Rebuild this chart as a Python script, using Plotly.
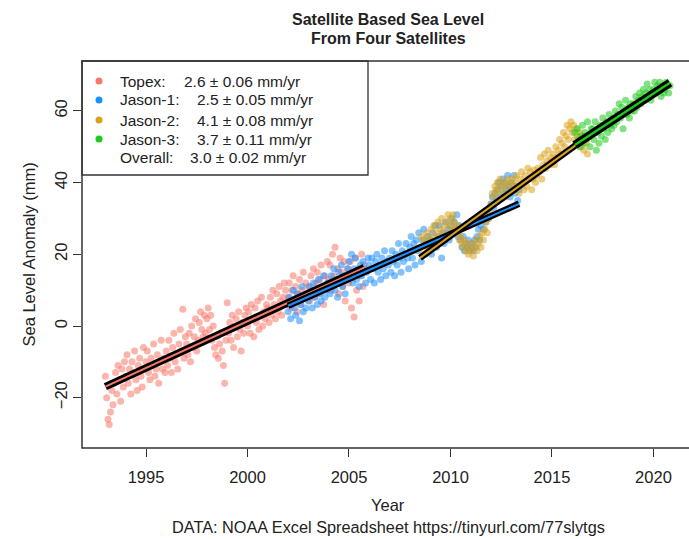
import numpy as np
import plotly.graph_objects as go

# ---------------- data ----------------
series_names = ["Topex", "Jason-1", "Jason-2", "Jason-3"]
series_colors = ["#F8786A", "#1E8FFF", "#DAA21C", "#1CCB1C"]
time_step = 0.0625          # years between plotted cycles
series_start = [1993.0, 2002.0, 2008.5, 2016.125]

topex = [
    -14, -20, -26, -27.5, -24, -18, -22, -16, -13, -19, -11, -15, -21, -12, -17, -10,
    -14, -8, -16, -12, -19, -10, -13, -7, -15, -18, -11, -9, -14, -17, -6, -12,
    -10, -7, -13, -15, -9, -11, -5, -14, -12, -8, -16, -10, -4, -12, -9, -13,
    -7, -11, -4, -9, -13, -6, -2, -10, -8, -12, -5, -1, -7, 4.7, -9, -3,
    -5, -8, -2, -10, 0, -6, -3, 2, -7, -4, 1, 4, -1, -3, 3, -2,
    2, 5, -1, 3, -4, 0, -6, -8, -3, -9, -5, -2, -7, -11, -16, -4,
    6.5, -2, 1, -4, 3, -6, 0, 2, -3, 4, -1, -7, 1, -2, 3, 5,
    0, 4, -2, 6, 2, -3, 5, 1, 7, -1, 3, 8, 0, 4, 2, 6,
    5, 1, 8, 3, 10, 6, 2, 9, 4, 11, 7, 3, 8, 12, 10, 6,
    8, 12, 5, 10, 14, 7, 11, 4, 9, 13, 6, 10, 15, 8, 12, 9,
    11, 7, 14, 10, 16, 8, 12, 15, 9, 13, 17, 10, 6, 14, 11, 18,
    13, 17, 10, 20, 14, 22, 12, 16, 9, 19, 15, 11, 18, 7, 14, 16,
    12, 18, 5, 15, 2.5, 19, 10, 16, 7, 14, 20, 11, 17,
]
jason1 = [
    4, 8, 2, 6, 10, 5, 3, 9, 7, 1.5, 6, 11, 4, 8, 5, 9,
    7, 11, 9, 5, 12, 8, 10, 6, 13, 9, 7, 11, 14, 8, 10, 12,
    12, 9, 14, 11, 16, 10, 13, 8, 15, 12, 17, 11, 14, 9, 13, 16,
    18, 14, 20, 12, 16, 19, 13, 15, 11, 17, 14, 18, 16, 12, 15, 19,
    17, 13, 19, 16, 12, 18, 20, 15, 17, 13, 19, 16, 21, 14, 18, 17,
    19, 15, 21, 18, 14, 20, 17, 23, 19, 15, 21, 18, 20, 23, 19, 16,
    22, 25, 19, 23, 17, 24, 21, 26, 22, 18, 24, 27, 20, 23, 25, 22,
    24, 20, 26, 23, 28, 22, 25, 28, 24, 19, 26, 23, 29, 25, 27, 24,
    28, 30, 26, 29, 27, 31, 25, 28, 24, 22, 25, 21, 23, 22, 24, 21,
    22, 23, 21, 24, 22, 25, 27, 24, 28, 30, 27, 31, 29, 32, 30, 33,
    34, 36, 33, 37, 35, 38, 40, 36, 39, 41, 37, 40, 38, 42, 39, 36,
    40, 38, 42, 37, 39, 35, 38,
]
jason2 = [
    22, 25, 20, 24, 23, 26, 21, 25,
    24, 27, 23, 28, 25, 26, 29, 24, 27, 30, 26, 28, 25, 29, 31, 27,
    30, 28, 31, 29, 27, 28, 26, 24, 25, 23, 22, 24, 21, 23, 20, 22,
    21, 23, 19.5, 22, 24, 21, 23, 25, 22, 26, 24, 27, 29, 26, 30, 32,
    34, 37, 36, 39, 38, 40, 37, 41, 39, 38, 40, 36, 39, 41, 37, 40,
    39, 41, 38, 40, 42, 39, 37, 41, 43, 40, 38, 42, 39, 44, 41, 43,
    38, 41, 43.5, 40, 42, 44, 43, 47, 41, 45, 48, 44, 46, 49, 45, 47,
    46, 48, 45, 50, 47, 49, 52, 48, 51, 54, 50, 53, 56, 52, 55, 57,
    54, 56, 52, 55, 53, 51, 54, 50, 52, 49, 53, 51, 48,
]
jason3 = [
    54, 51, 55, 52, 50, 53, 56, 51, 54, 52, 57, 53, 50, 55,
    55, 52, 57, 49, 54, 51, 56, 53, 58, 55, 52, 57, 54, 59, 56, 55,
    58, 56, 60, 57, 59, 62, 58, 61, 55, 60, 63, 59, 61, 58, 62, 60,
    62, 60, 64, 61, 63, 65, 62, 64, 66, 63, 65, 67.5, 64, 66, 63, 65,
    66, 68, 65, 67, 66, 68, 64, 67, 65, 66, 68, 67, 65, 67,
]
series_values = [topex, jason1, jason2, jason3]

# regression fits: rate (mm/yr) and fitted level at the series start
fit_rate = [2.6, 2.5, 4.1, 3.7]
fit_err = ["0.06", "0.05", "0.08", "0.11"]
fit_start_level = [-16.9, 5.65, 19.0, 50.5]
overall_rate, overall_err = 3.0, "0.02"

x_ticks = [1995, 2000, 2005, 2010, 2015, 2020]
y_ticks = [-20, 0, 20, 40, 60]

# ---------------- figure ----------------
FONT = "Liberation Sans, Arial, sans-serif"
TXT = "#222222"
fig = go.Figure()

times = []
for name, col, t0, vals in zip(series_names, series_colors, series_start, series_values):
    t = t0 + time_step * np.arange(len(vals))
    times.append(t)
    fig.add_trace(go.Scatter(x=t, y=vals, mode="markers", name=name,
                             marker=dict(size=7, color=col, opacity=0.55, line=dict(width=0)),
                             showlegend=False, hoverinfo="skip"))

black_w = [7.5, 6.5, 6.5, 8.5]
col_w = [2, 2, 2, 2.2]
for i, (col, t) in enumerate(zip(series_colors, times)):
    xs = [t[0], t[-1]]
    ys = [fit_start_level[i], fit_start_level[i] + fit_rate[i] * (t[-1] - t[0])]
    fig.add_trace(go.Scatter(x=xs, y=ys, mode="lines", line=dict(color="black", width=black_w[i]),
                             showlegend=False, hoverinfo="skip"))
    fig.add_trace(go.Scatter(x=xs, y=ys, mode="lines", line=dict(color=col, width=col_w[i]),
                             showlegend=False, hoverinfo="skip"))

# pixel geometry helpers (plot area: x 82..689, y 61..448)
L, R, T, B = 82, 689, 61, 448
def px(X):
    return (X - L) / (R - L)
def py(Y):
    return (B - Y) / (B - T)

shapes = [
    dict(type="rect", xref="paper", yref="paper", x0=0, x1=1.05, y0=0, y1=1,
         line=dict(color="#333333", width=1.5), layer="above"),
    dict(type="rect", xref="paper", yref="paper", x0=0, x1=px(368), y0=py(175), y1=1,
         line=dict(color="#333333", width=1.3), fillcolor="rgba(255,255,255,0)", layer="above"),
]
annotations = []
rows_y = [81, 100, 120, 139, 157]
value_x = [182, 195, 195, 195]
for i, (name, col) in enumerate(zip(series_names, series_colors)):
    shapes.append(dict(type="circle", xref="paper", yref="paper", xsizemode="pixel", ysizemode="pixel",
                       xanchor=px(99), yanchor=py(rows_y[i]), x0=-3.5, x1=3.5, y0=-3.5, y1=3.5,
                       fillcolor=col, line=dict(width=0)))
    annotations.append(dict(x=px(118), y=py(rows_y[i]), xref="paper", yref="paper", text=f"{name}:",
                            showarrow=False, xanchor="left", yanchor="middle",
                            font=dict(family=FONT, size=15.5, color=TXT)))
    annotations.append(dict(x=px(value_x[i]), y=py(rows_y[i]), xref="paper", yref="paper",
                            text=f"{fit_rate[i]:.1f} \u00b1 {fit_err[i]} mm/yr",
                            showarrow=False, xanchor="left", yanchor="middle",
                            font=dict(family=FONT, size=15.5, color=TXT)))
annotations.append(dict(x=px(118), y=py(rows_y[4]), xref="paper", yref="paper", text="Overall:",
                        showarrow=False, xanchor="left", yanchor="middle",
                        font=dict(family=FONT, size=15.5, color=TXT)))
annotations.append(dict(x=px(188), y=py(rows_y[4]), xref="paper", yref="paper",
                        text=f"{overall_rate:.1f} \u00b1 {overall_err} mm/yr",
                        showarrow=False, xanchor="left", yanchor="middle",
                        font=dict(family=FONT, size=15.5, color=TXT)))

cx = px(388)
annotations += [
    dict(x=cx, y=py(19.5), xref="paper", yref="paper", text="<b>Satellite Based Sea Level</b>",
         showarrow=False, xanchor="center", yanchor="middle", font=dict(family=FONT, size=16, color=TXT)),
    dict(x=cx, y=py(38.5), xref="paper", yref="paper", text="<b>From Four Satellites</b>",
         showarrow=False, xanchor="center", yanchor="middle", font=dict(family=FONT, size=16, color=TXT)),
    dict(x=cx, y=py(505), xref="paper", yref="paper", text="Year",
         showarrow=False, xanchor="center", yanchor="middle", font=dict(family=FONT, size=16.5, color=TXT)),
    dict(x=px(388), y=py(526.5), xref="paper", yref="paper",
         text="DATA: NOAA Excel Spreadsheet https://tinyurl.com/77slytgs",
         showarrow=False, xanchor="center", yanchor="middle", font=dict(family=FONT, size=16.3, color=TXT)),
    dict(x=px(28), y=py(254.5), xref="paper", yref="paper", text="Sea Level Anomaly (mm)", textangle=-90,
         showarrow=False, xanchor="center", yanchor="middle", font=dict(family=FONT, size=16.5, color=TXT)),
]

fig.update_layout(
    width=689, height=539,
    margin=dict(l=L, r=0, t=T, b=539 - B, pad=0),
    paper_bgcolor="white", plot_bgcolor="white",
    showlegend=False,
    shapes=shapes, annotations=annotations,
    xaxis=dict(range=[1991.847, 2021.75], tickvals=x_ticks, ticks="outside", ticklen=8,
               tickwidth=1.3, tickcolor="#333333", showgrid=False, zeroline=False, showline=False,
               ticklabelstandoff=6,
               tickfont=dict(family=FONT, size=16.5, color=TXT)),
    yaxis=dict(range=[-34.03, 73.92], tickvals=y_ticks, ticks="outside", ticklen=8, tickangle=-90,
               tickwidth=1.3, tickcolor="#333333", showgrid=False, zeroline=False, showline=False,
               ticklabelstandoff=-1,
               tickfont=dict(family=FONT, size=16.5, color=TXT)),
)

fig.write_html("out.html")
